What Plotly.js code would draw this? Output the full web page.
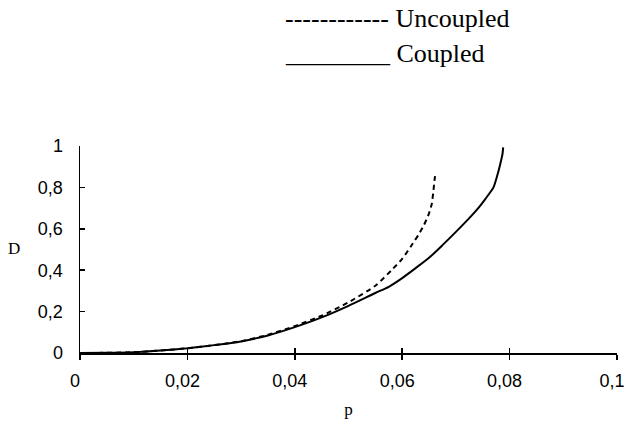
<!DOCTYPE html>
<html>
<head>
<meta charset="utf-8">
<script src="https://cdn.plot.ly/plotly-3.0.1.min.js"></script>
<style>html,body{margin:0;padding:0;background:#fff;}#chart{width:626px;height:434px;}</style>
</head>
<body>
<div id="chart"></div>
<script>
// Coupled (solid)
var coupledP = [0, 0.005, 0.01, 0.015, 0.02, 0.025, 0.03, 0.035, 0.04, 0.045, 0.05, 0.055, 0.0575, 0.06, 0.0625, 0.065, 0.0675, 0.07, 0.072, 0.074, 0.0755, 0.077, 0.0779, 0.0785, 0.0787, 0.0788];
var coupledD = [0, 0.001, 0.004, 0.012, 0.023, 0.038, 0.056, 0.085, 0.125, 0.172, 0.228, 0.29, 0.32, 0.362, 0.41, 0.46, 0.521, 0.585, 0.638, 0.695, 0.745, 0.80, 0.876, 0.94, 0.965, 0.993];
// Uncoupled (dashed)
var uncoupledP = [0, 0.005, 0.01, 0.015, 0.02, 0.025, 0.03, 0.035, 0.04, 0.045, 0.05, 0.055, 0.058, 0.06, 0.062, 0.063, 0.064, 0.065, 0.0655, 0.0658, 0.066, 0.0662];
var uncoupledD = [0, 0.001, 0.004, 0.012, 0.023, 0.038, 0.057, 0.088, 0.13, 0.18, 0.245, 0.325, 0.40, 0.455, 0.53, 0.57, 0.615, 0.675, 0.72, 0.78, 0.83, 0.87];

var xTickVals = [0, 0.02, 0.04, 0.06, 0.08, 0.1];
var xTickText = ["0", "0,02", "0,04", "0,06", "0,08", "0,1"];
var yTickVals = [0, 0.2, 0.4, 0.6, 0.8, 1];
var yTickText = ["0", "0,2", "0,4", "0,6", "0,8", "1"];

var legendUncoupled = "------------ Uncoupled";
var legendCoupled = "________ Coupled";

var traces = [
  {x: uncoupledP, y: uncoupledD, xaxis: 'x2', yaxis: 'y', type: 'scatter', mode: 'lines', name: 'Uncoupled',
   line: {color: '#000', width: 2, dash: '5px,4px', shape: 'spline', smoothing: 0.6}},
  {x: coupledP, y: coupledD, type: 'scatter', mode: 'lines', name: 'Coupled',
   line: {color: '#000', width: 2, shape: 'spline', smoothing: 0.6}}
];

var sans = 'Liberation Sans, Arial, sans-serif';
var serif = 'Liberation Serif, Times New Roman, serif';

var layout = {
  width: 626, height: 434,
  margin: {l: 80, r: 9, t: 146, b: 81},
  paper_bgcolor: '#fff', plot_bgcolor: '#fff',
  showlegend: false,
  xaxis: {
    range: [0, 0.1], tickvals: xTickVals, ticktext: xTickText,
    showgrid: false, zeroline: false, showline: true, linecolor: '#000', linewidth: 1.5,
    ticks: 'outside', ticklen: 5, tickwidth: 1.5, tickcolor: '#000',
    tickfont: {family: sans, size: 18, color: '#000'},
    ticklabelstandoff: 6, ticklabelshift: -5,
    title: {text: 'p', font: {family: serif, size: 17, color: '#000'}, standoff: 13}
  },
  xaxis2: {
    range: [0, 0.1], tickvals: xTickVals, overlaying: 'x', anchor: 'y', side: 'bottom',
    showgrid: false, zeroline: false, showline: false, showticklabels: false,
    ticks: 'inside', ticklen: 5, tickwidth: 1.5, tickcolor: '#000'
  },
  yaxis: {
    range: [0, 1], tickvals: yTickVals, ticktext: yTickText,
    showgrid: false, zeroline: false, showline: true, linecolor: '#000', linewidth: 1.5,
    ticks: 'inside', ticklen: 5, tickwidth: 1.5, tickcolor: '#000',
    tickfont: {family: sans, size: 18, color: '#000'},
    ticklabelstandoff: 12
  },
  annotations: [
    {text: legendUncoupled, xref: 'paper', yref: 'paper', x: 0.378, y: 1.618, xanchor: 'left', yanchor: 'middle',
     showarrow: false, font: {family: serif, size: 26, color: '#000'}},
    {text: legendCoupled, xref: 'paper', yref: 'paper', x: 0.378, y: 1.448, xanchor: 'left', yanchor: 'middle',
     showarrow: false, font: {family: serif, size: 26, color: '#000'}},
    {text: 'D', xref: 'paper', yref: 'paper', x: -0.123, y: 0.505, xanchor: 'center', yanchor: 'middle',
     showarrow: false, font: {family: serif, size: 17, color: '#000'}}
  ]
};

Plotly.newPlot('chart', traces, layout, {displayModeBar: false, staticPlot: true});
</script>
</body>
</html>
